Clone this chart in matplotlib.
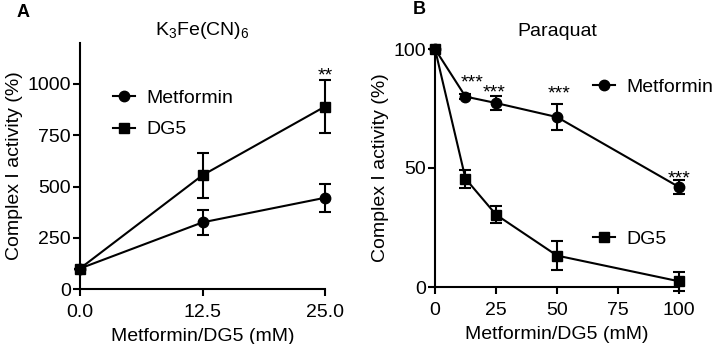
import matplotlib
matplotlib.use("Agg")
import matplotlib.pyplot as plt
from matplotlib.lines import Line2D

plt.rcParams['font.family'] = ['Liberation Sans', 'DejaVu Sans']
plt.rcParams['font.size'] = 14
plt.rcParams['mathtext.fontset'] = 'custom'
plt.rcParams['mathtext.rm'] = 'Liberation Sans'

# Panel A data (K3Fe(CN)6)
a_x = [0.0, 12.5, 25.0]
a_met = [100, 325, 445]
a_met_err = [0, 62, 67]
a_dg5 = [100, 555, 890]
a_dg5_err = [0, 110, 130]
a_xticks = [0.0, 12.5, 25.0]
a_xticklabels = ["0.0", "12.5", "25.0"]
a_yticks = [0, 250, 500, 750, 1000]
a_stars_x = [25]
a_stars_y = [1015]
a_stars = ["**"]

# Panel B data (Paraquat)
b_x = [0, 12.5, 25, 50, 100]
b_met = [100, 80, 77.3, 71.4, 42]
b_met_err = [0, 1, 3, 5.6, 3]
b_dg5 = [100, 45.5, 30.4, 13.2, 2.4]
b_dg5_err = [0, 3.8, 3.5, 6, 4]
b_xticks = [0, 25, 50, 75, 100]
b_yticks = [0, 50, 100]
b_stars_x = [15.2, 24.4, 50.8, 100]
b_stars_y = [83.8, 79.6, 79.4, 43.4]
b_stars = ["***", "***", "***", "***"]

fig = plt.figure(figsize=(7.14, 3.44), dpi=100)
W, H = 714, 344

def add_ax(l, r, t, b):
    return fig.add_axes([l / W, 1 - b / H, (r - l) / W, (b - t) / H])

axA = add_ax(80, 325, 43, 289)
axB = add_ax(435, 679, 49, 287)

lw = 1.5
FS = 14
def style(ax):
    for s in ['top', 'right']:
        ax.spines[s].set_visible(False)
    for s in ['left', 'bottom']:
        ax.spines[s].set_linewidth(lw)
    ax.tick_params(axis='both', direction='out', length=5, width=lw, labelsize=FS)
    ax.tick_params(axis='y', pad=1.5)
    ax.tick_params(axis='x', pad=6)

ekw = dict(color='black', lw=lw, elinewidth=lw, capsize=4, capthick=lw, clip_on=False)
ms = 7.5

# Panel A
axA.errorbar(a_x, a_met, yerr=a_met_err, marker='o', ms=ms, **ekw, zorder=3)
axA.errorbar(a_x, a_dg5, yerr=a_dg5_err, marker='s', ms=ms, **ekw, zorder=3)
axA.set_xlim(0, 25)
axA.set_ylim(0, 1200)
axA.set_xticks(a_xticks)
axA.set_xticklabels(a_xticklabels)
axA.set_yticks(a_yticks)
style(axA)
axA.set_xlabel("Metformin/DG5 (mM)", fontsize=FS, labelpad=4.5)
axA.set_ylabel("Complex I activity (%)", fontsize=FS, labelpad=3)
axA.set_title("K$_3$Fe(CN)$_6$", fontsize=FS, pad=6)
for sx, sy, st in zip(a_stars_x, a_stars_y, a_stars):
    axA.text(sx, sy, st, ha='center', va='baseline', fontsize=FS, clip_on=False)
hm = Line2D([], [], color='black', lw=lw, marker='o', ms=ms)
hd = Line2D([], [], color='black', lw=lw, marker='s', ms=ms)
legkw = dict(frameon=False, fontsize=FS, handlelength=1.13, handletextpad=0.6,
             borderpad=0, borderaxespad=0)
axA.legend([hm, hd], ["Metformin", "DG5"], loc='center left',
           bbox_to_anchor=((113 - 80) / 245, 1 - (114 - 43) / 246),
           labelspacing=0.7, **legkw)

# Panel B
axB.errorbar(b_x, b_met, yerr=b_met_err, marker='o', ms=ms, **ekw, zorder=3)
axB.errorbar(b_x, b_dg5, yerr=b_dg5_err, marker='s', ms=ms, **ekw, zorder=3)
axB.set_xlim(0, 100)
axB.set_ylim(0, 100)
axB.set_xticks(b_xticks)
axB.set_yticks(b_yticks)
style(axB)
axB.set_xlabel("Metformin/DG5 (mM)", fontsize=FS, labelpad=4.5)
axB.set_ylabel("Complex I activity (%)", fontsize=FS, labelpad=3)
axB.set_title("Paraquat", fontsize=FS, pad=9)
for sx, sy, st in zip(b_stars_x, b_stars_y, b_stars):
    axB.text(sx, sy, st, ha='center', va='baseline', fontsize=FS, clip_on=False)
legB1 = axB.legend([hm], ["Metformin"], loc='center left',
                   bbox_to_anchor=((593 - 435) / 244, 1 - (87 - 49) / 238), **legkw)
axB.add_artist(legB1)
axB.legend([hd], ["DG5"], loc='center left',
           bbox_to_anchor=((593 - 435) / 244, 1 - (239 - 49) / 238), **legkw)

fig.text(23 / W, 1 - 12.5 / H, "A", fontsize=13, fontweight='bold', ha='center', va='center')
fig.text(419 / W, 1 - 10 / H, "B", fontsize=13, fontweight='bold', ha='center', va='center')

fig.savefig("out.png", dpi=100)
